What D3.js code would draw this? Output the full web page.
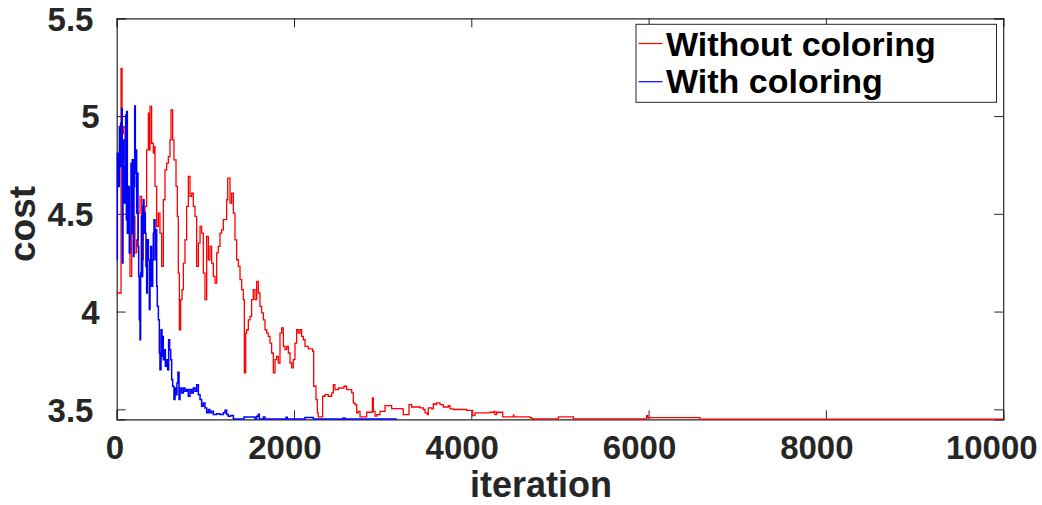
<!DOCTYPE html>
<html><head><meta charset="utf-8">
<script src="https://cdn.jsdelivr.net/npm/d3@7"></script>
<style>
html,body{margin:0;padding:0;background:#fff;}
svg{display:block;font-family:"Liberation Sans",Arial,Helvetica,sans-serif;}
</style></head>
<body><svg id="chart" width="1042" height="505"></svg>
<script>
// ---- data ----
const xTicks = [0, 2000, 4000, 6000, 8000, 10000];
const yTicks = [3.5, 4, 4.5, 5, 5.5];
const seriesNames = ["Without coloring", "With coloring"];
const seriesColors = ["#ff0000", "#0000ff"];

const redIter = [0,49,60,75,94,112,131,150,169,188,206,225,244,263,282,300,319,338,357,368,376,394,413,424,432,451,470,488,507,526,545,564,583,601,613,631,646,669,684,695,707,722,737,752,770,789,808,827,846,864,883,902,921,940,958,977,996,1015,1034,1052,1071,1090,1109,1128,1146,1165,1184,1203,1222,1240,1252,1278,1297,1316,1334,1353,1372,1391,1410,1428,1440,1455,1466,1485,1504,1522,1541,1560,1579,1598,1616,1635,1654,1673,1692,1710,1729,1748,1767,1786,1804,1823,1842,1861,1880,1898,1917,1936,1955,1974,1992,2011,2030,2049,2068,2086,2105,2124,2162,2210,2222,2248,2263,2274,2312,2323,2350,2387,2425,2444,2462,2500,2538,2564,2594,2613,2651,2669,2688,2707,2726,2745,2801,2820,2876,2884,2895,2914,2933,2970,3008,3027,3083,3102,3215,3233,3290,3297,3327,3421,3459,3478,3504,3515,3553,3572,3590,3609,3647,3684,3741,3760,3797,3948,3997,4016,4042,4211,4256,4267,4286,4335,4354,4467,4474,4482,4662,4681,4963,4982,5132,5151,5978,5990,6053,6561,6580,10000];
const redCost = [4.095,5.244,4.91,4.946,4.776,4.572,4.401,4.18,4.401,4.487,4.30,4.367,4.504,4.589,4.265,4.487,4.538,4.827,5.015,4.827,5.049,4.861,4.81,4.844,4.64,4.435,4.504,4.401,4.231,4.572,4.725,4.759,4.793,4.878,5.032,4.878,4.776,4.64,4.487,4.197,3.907,4.061,4.112,4.248,4.367,4.538,4.691,4.589,4.606,4.538,4.487,4.231,4.35,4.435,4.401,4.197,4.061,4.384,4.265,4.333,4.248,4.18,4.146,4.30,4.333,4.401,4.418,4.47,4.47,4.572,4.683,4.555,4.606,4.504,4.367,4.265,4.231,4.163,4.112,4.061,3.686,3.89,3.907,3.958,3.975,4.061,4.112,4.061,4.154,4.095,4.027,3.993,3.958,3.907,3.89,3.873,3.839,3.788,3.686,3.754,3.771,3.737,3.89,3.916,3.822,3.805,3.822,3.788,3.737,3.712,3.754,3.839,3.907,3.89,3.907,3.873,3.856,3.822,3.809,3.797,3.618,3.55,3.482,3.461,3.461,3.567,3.575,3.567,3.584,3.626,3.601,3.609,3.609,3.618,3.601,3.601,3.584,3.533,3.524,3.482,3.49,3.461,3.461,3.485,3.485,3.558,3.49,3.465,3.473,3.49,3.49,3.519,3.519,3.504,3.502,3.473,3.473,3.524,3.512,3.507,3.499,3.482,3.473,3.507,3.502,3.529,3.524,3.533,3.524,3.512,3.519,3.502,3.499,3.495,3.495,3.468,3.482,3.485,3.49,3.473,3.485,3.485,3.461,3.461,3.47,3.461,3.458,3.451,3.451,3.461,3.461,3.451,3.468,3.458,3.458,3.458,3.450,3.450];

const blueIter = [0,7,18,30,37,45,56,63,71,82,94,101,109,112,120,131,142,150,161,169,176,188,195,203,210,218,225,233,240,248,255,263,270,278,285,293,300,308,315,323,330,338,345,357,368,376,383,394,406,413,421,432,443,451,458,470,481,488,500,511,518,526,537,549,564,575,586,597,609,620,631,646,658,669,680,691,703,714,733,752,770,789,808,827,846,864,883,902,921,940,958,977,996,1015,1034,1052,1071,1090,1128,1165,1203,1222,1240,1259,1285,1316,1436,1541,1560,1579,1598,1609,1654,1673,1910,1925,2124,2218,2556,2575,3160];
const blueCost = [4.265,4.81,4.64,4.946,4.742,4.963,5.04,4.248,4.878,4.555,4.742,5.006,4.47,5.023,4.401,4.64,4.299,4.538,4.759,4.401,4.776,4.282,4.64,5.052,4.708,4.827,4.504,4.708,4.333,4.18,3.958,3.856,4.197,4.487,4.18,4.538,4.572,4.401,4.504,4.401,4.231,4.095,4.367,4.265,4.01,4.163,4.333,4.129,4.265,4.401,4.47,4.265,4.418,4.129,4.027,3.958,3.788,3.703,3.907,3.771,3.873,3.754,3.805,3.72,3.754,3.703,3.856,3.805,3.754,3.652,3.618,3.55,3.609,3.575,3.635,3.69,3.55,3.609,3.584,3.609,3.592,3.601,3.567,3.601,3.584,3.609,3.592,3.626,3.575,3.55,3.516,3.533,3.507,3.482,3.499,3.482,3.49,3.473,3.478,3.473,3.482,3.495,3.473,3.465,3.468,3.451,3.461,3.461,3.451,3.465,3.475,3.451,3.461,3.451,3.46,3.451,3.458,3.451,3.456,3.451,3.451];

// ---- layout ----
const svg = d3.select("#chart");
const L = 116.7, R = 1003.2, T = 18.3, B = 419.3;
const x = d3.scaleLinear().domain([0, 10000]).range([L, R]);
const y = d3.scaleLinear().domain([3.449, 5.5]).range([B, T]);
const axisColor = "#262626";
const tickFont = 33;

// axes (ticks inward, box on all sides)
const gB = svg.append("g").attr("transform", `translate(0,${B})`)
  .call(d3.axisBottom(x).tickValues(xTicks).tickSize(-9).tickPadding(0).tickFormat(d3.format("d")));
const gT = svg.append("g").attr("transform", `translate(0,${T})`)
  .call(d3.axisTop(x).tickValues(xTicks).tickSize(-9).tickFormat(""));
const gL = svg.append("g").attr("transform", `translate(${L},0)`)
  .call(d3.axisLeft(y).tickValues(yTicks).tickSize(-9).tickPadding(0).tickFormat(d3.format("")));
const gR = svg.append("g").attr("transform", `translate(${R},0)`)
  .call(d3.axisRight(y).tickValues(yTicks).tickSize(-9).tickFormat(""));

[gB, gT, gL, gR].forEach(g => {
  g.select(".domain").attr("stroke", axisColor).attr("stroke-width", 1.2);
  g.selectAll(".tick line").attr("stroke", axisColor).attr("stroke-width", 1);
});

gB.selectAll(".tick text")
  .attr("fill", axisColor).attr("font-size", tickFont).attr("font-weight", "bold")
  .attr("font-family", "Liberation Sans, Arial, sans-serif")
  .attr("y", 40).attr("dy", 0)
  .attr("dx", function(){ return -0.13 * this.getComputedTextLength(); });

gL.selectAll(".tick text")
  .attr("fill", axisColor).attr("font-size", tickFont).attr("font-weight", "bold")
  .attr("font-family", "Liberation Sans, Arial, sans-serif")
  .attr("x", -12.9).attr("dy", "0.36em")
  .attr("dx", function(){ return -0.226 * this.getComputedTextLength(); });

// axis labels
svg.append("text").attr("x", 541).attr("y", 497).attr("text-anchor", "middle")
  .attr("font-size", 36).attr("font-weight", "bold").attr("fill", axisColor).text("iteration");
svg.append("text").attr("transform", "translate(35,224) rotate(-90)").attr("text-anchor", "middle")
  .attr("font-size", 37).attr("font-weight", "bold").attr("fill", axisColor).text("cost");

// lines
const line = d3.line().x(d => x(d[0])).y(d => y(d[1])).curve(d3.curveStepAfter);
const redData = d3.zip(redIter, redCost);
const blueData = d3.zip(blueIter, blueCost);
svg.append("path").datum(redData).attr("d", line)
  .attr("fill", "none").attr("stroke", seriesColors[0]).attr("stroke-width", 1.3).attr("stroke-linejoin", "miter");
svg.append("path").datum(blueData).attr("d", line)
  .attr("fill", "none").attr("stroke", seriesColors[1]).attr("stroke-width", 1.5).attr("stroke-linejoin", "miter");

// legend
const lg = svg.append("g");
lg.append("rect").attr("x", 636).attr("y", 24.3).attr("width", 360.5).attr("height", 78)
  .attr("fill", "#fff").attr("stroke", axisColor).attr("stroke-width", 1);
seriesNames.forEach((name, i) => {
  const ly = [43.5, 81.7][i];
  lg.append("line").attr("x1", 638.5).attr("x2", 662.5).attr("y1", ly).attr("y2", ly)
    .attr("stroke", seriesColors[i]).attr("stroke-width", 1.2);
  lg.append("text").attr("x", 666).attr("y", [56, 92.5][i])
    .attr("font-size", 34).attr("font-weight", "bold").attr("fill", "#000").text(name);
});
</script>
</body></html>
